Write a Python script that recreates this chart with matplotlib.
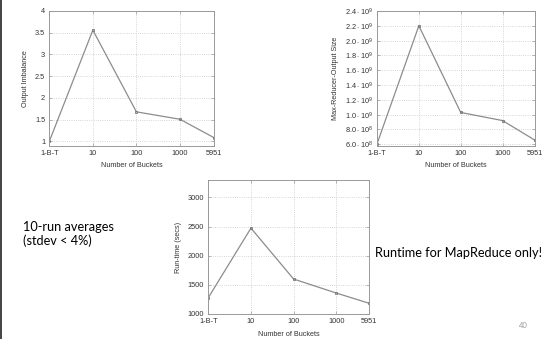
import matplotlib
matplotlib.use("Agg")
import matplotlib.pyplot as plt
from matplotlib.lines import Line2D

# Daten
buckets = [1, 10, 100, 1000, 5951]
bucket_labels = ['1-B-T', '10', '100', '1000', '5951']

imbalance = [1.0, 3.56, 1.68, 1.51, 1.09]
max_reducer = [6.05e8, 2.20e9, 1.03e9, 9.2e8, 6.55e8]
runtime = [1280, 2474, 1600, 1360, 1183]

imb_ticks = [1, 1.5, 2, 2.5, 3, 3.5, 4]
imb_ticklabels = ['1', '1.5', '2', '2.5', '3', '3.5', '4']
mr_ticks = [6e8, 8e8, 1.0e9, 1.2e9, 1.4e9, 1.6e9, 1.8e9, 2.0e9, 2.2e9, 2.4e9]
mr_ticklabels = [r'$6.0\cdot10^{8}$', r'$8.0\cdot10^{8}$', r'$1.0\cdot10^{9}$',
                 r'$1.2\cdot10^{9}$', r'$1.4\cdot10^{9}$', r'$1.6\cdot10^{9}$',
                 r'$1.8\cdot10^{9}$', r'$2.0\cdot10^{9}$', r'$2.2\cdot10^{9}$',
                 r'$2.4\cdot10^{9}$']
rt_ticks = [1000, 1500, 2000, 2500, 3000]

plt.rcParams['font.family'] = ['Liberation Sans', 'DejaVu Sans']
plt.rcParams['mathtext.default'] = 'regular'

fig = plt.figure(figsize=(5.55, 3.39), dpi=100)


def gnuplot_axes(rect, y, yticks, yticklabels, ylim, ylabel):
    ax = fig.add_axes(rect)
    ax.plot(buckets, y, color='#8c8c8c', lw=0.9, marker='s', markersize=2,
            mfc='none', mec='#777777', mew=0.6)
    ax.set_xscale('log')
    ax.set_xlim(1, 5951)
    ax.set_xticks(buckets)
    ax.set_xticklabels(bucket_labels)
    ax.minorticks_off()
    ax.set_ylim(*ylim)
    ax.set_yticks(yticks)
    ax.set_yticklabels(yticklabels)
    ax.grid(True, color='#c8c8c8', linestyle=':', linewidth=0.6)
    for s in ax.spines.values():
        s.set_color('#999999')
        s.set_linewidth(0.7)
    ax.tick_params(direction='in', length=2, width=0.5, colors='#999999',
                   labelcolor='#333333', labelsize=5.3, pad=3, top=True, right=True)
    ax.set_xlabel('Number of Buckets', fontsize=5.2, color='#333333', labelpad=4)
    ax.set_ylabel(ylabel, fontsize=5.2, color='#333333', labelpad=4)
    return ax


gnuplot_axes([49.3 / 555, 0.570, 164.4 / 555, 0.3976], imbalance, imb_ticks,
             imb_ticklabels, (0.9, 4), 'Output Imbalance')
gnuplot_axes([377 / 555, 0.570, 158 / 555, 0.3976], max_reducer, mr_ticks,
             mr_ticklabels, (5.8e8, 2.4e9), 'Max-Reducer-Output Size')
gnuplot_axes([208.3 / 555, 1 - 314 / 339, 161 / 555, 134 / 339], runtime, rt_ticks,
             [str(t) for t in rt_ticks], (1000, 3300), 'Run-time (secs)')

# Folientext
fig.text(22.7 / 555, 1 - 234 / 339, '10-run averages\n(stdev < 4%)',
         fontsize=9.2, family='Lato', va='center', ha='left', linespacing=1.15)
fig.text(375 / 555, 1 - 253 / 339, 'Runtime for MapReduce only!',
         fontsize=9.2, family='Lato', va='center', ha='left')
fig.text(523 / 555, 1 - 326 / 339, '40', fontsize=5.5, family='Lato',
         color='#999999', va='center', ha='center')

# linker Rand der Folie
fig.add_artist(Line2D([0.0015, 0.0015], [0, 1], color='#222222', lw=1.2))

fig.savefig('out.png', dpi=100)
